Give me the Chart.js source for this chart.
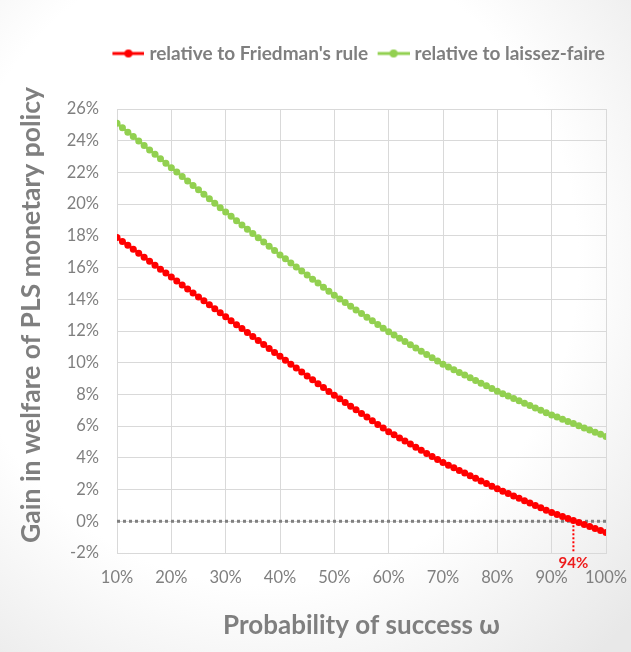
<!DOCTYPE html>
<html>
<head>
<meta charset="utf-8">
<script src="https://cdn.jsdelivr.net/npm/chart.js@4.4.0/dist/chart.umd.min.js"></script>
<style>
  html, body { margin: 0; padding: 0; }
  body {
    width: 631px; height: 652px; overflow: hidden;
    background: radial-gradient(ellipse 80% 80% at 42% 40%, #ffffff 62%, #e8e8e8 100%);
  }
  #wrap { position: relative; width: 631px; height: 652px; }
</style>
</head>
<body>
<div id="wrap"><canvas id="welfareChart"></canvas></div>
<script>
// probability of success (in %)
const omega = [
  10, 11, 12, 13, 14, 15, 16, 17, 18, 19,
  20, 21, 22, 23, 24, 25, 26, 27, 28, 29,
  30, 31, 32, 33, 34, 35, 36, 37, 38, 39,
  40, 41, 42, 43, 44, 45, 46, 47, 48, 49,
  50, 51, 52, 53, 54, 55, 56, 57, 58, 59,
  60, 61, 62, 63, 64, 65, 66, 67, 68, 69,
  70, 71, 72, 73, 74, 75, 76, 77, 78, 79,
  80, 81, 82, 83, 84, 85, 86, 87, 88, 89,
  90, 91, 92, 93, 94, 95, 96, 97, 98, 99,
  100
];

// gain in welfare, relative to Friedman's rule (%)
const friedmanGain = [
  17.90, 17.65, 17.40, 17.15, 16.90, 16.65, 16.40, 16.15, 15.90, 15.65,
  15.40, 15.15, 14.90, 14.65, 14.40, 14.15, 13.90, 13.65, 13.40, 13.15,
  12.90, 12.65, 12.40, 12.15, 11.90, 11.65, 11.40, 11.15, 10.90, 10.65,
  10.40, 10.15, 9.91, 9.66, 9.42, 9.17, 8.93, 8.68, 8.44, 8.19,
  7.95, 7.72, 7.49, 7.26, 7.03, 6.80, 6.57, 6.34, 6.11, 5.88,
  5.65, 5.45, 5.26, 5.06, 4.87, 4.67, 4.48, 4.28, 4.09, 3.89,
  3.70, 3.53, 3.37, 3.20, 3.04, 2.87, 2.71, 2.54, 2.38, 2.21,
  2.05, 1.90, 1.75, 1.60, 1.45, 1.30, 1.15, 1.00, 0.85, 0.70,
  0.55, 0.43, 0.30, 0.18, 0.05, -0.08, -0.20, -0.33, -0.45, -0.58,
  -0.70
];

// gain in welfare, relative to laissez-faire (%)
const laissezGain = [
  25.10, 24.82, 24.54, 24.26, 23.98, 23.70, 23.42, 23.14, 22.86, 22.58,
  22.30, 22.02, 21.74, 21.46, 21.18, 20.90, 20.62, 20.34, 20.06, 19.78,
  19.50, 19.23, 18.96, 18.69, 18.42, 18.15, 17.88, 17.61, 17.34, 17.07,
  16.80, 16.55, 16.29, 16.04, 15.78, 15.53, 15.27, 15.02, 14.76, 14.51,
  14.25, 14.02, 13.79, 13.56, 13.33, 13.10, 12.87, 12.64, 12.41, 12.18,
  11.95, 11.75, 11.54, 11.34, 11.13, 10.93, 10.72, 10.52, 10.31, 10.11,
  9.90, 9.73, 9.56, 9.39, 9.22, 9.05, 8.88, 8.71, 8.54, 8.37,
  8.20, 8.05, 7.90, 7.75, 7.60, 7.45, 7.30, 7.15, 7.00, 6.85,
  6.70, 6.57, 6.43, 6.30, 6.16, 6.03, 5.89, 5.76, 5.62, 5.49,
  5.35
];

const seriesNames = ["relative to Friedman's rule", 'relative to laissez-faire'];
const xRange = [10, 100];
const yRange = [-2, 26];
const crossAt = 94;          // where the Friedman curve crosses zero
const crossLabel = '94%';

const RED = '#ff0000';
const GREEN = '#92d050';
const GREY_TEXT = '#7f7f7f';
const GRID = '#d9d9d9';
const FONT = 'Lato, "Open Sans", sans-serif';

// little "line with a dot" legend markers (drawn in the right part of the image
// so the gap to the label text stays small)
function legendMarker(color) {
  const c = document.createElement('canvas');
  c.width = 33; c.height = 10;
  const g = c.getContext('2d');
  g.strokeStyle = color; g.lineWidth = 3;
  g.beginPath(); g.moveTo(1, 5); g.lineTo(33, 5); g.stroke();
  g.fillStyle = color;
  g.beginPath(); g.arc(17, 5, 4, 0, Math.PI * 2); g.fill();
  return c;
}
const markers = [legendMarker(RED), legendMarker(GREEN)];

// push the plot down below the legend and nudge the legend right
const legendSpacer = {
  id: 'legendSpacer',
  beforeInit(chart) {
    const fit = chart.legend.fit;
    chart.legend.fit = function () {
      fit.bind(chart.legend)();
      this.height += 36;
    };
  },
  afterLayout(chart) {
    chart.legend.left += 12;
    chart.legend.right += 12;
  }
};

// red dotted drop line + "94%" label
const crossingMarker = {
  id: 'crossingMarker',
  afterDatasetsDraw(chart) {
    const { ctx, scales: { x, y } } = chart;
    const px = x.getPixelForValue(crossAt);
    const top = y.getPixelForValue(0);
    const bottom = y.getPixelForValue(yRange[0]);
    ctx.save();
    ctx.strokeStyle = RED;
    ctx.lineWidth = 2;
    ctx.setLineDash([2, 2]);
    ctx.beginPath(); ctx.moveTo(px, top); ctx.lineTo(px, bottom); ctx.stroke();
    ctx.setLineDash([]);
    ctx.fillStyle = '#ee1c1c';
    ctx.font = 'bold 15px ' + FONT;
    ctx.textAlign = 'center';
    ctx.textBaseline = 'middle';
    ctx.fillText(crossLabel, px, bottom + 10);
    ctx.restore();
  }
};

const toPoints = vals => omega.map((w, i) => ({ x: w, y: vals[i] }));

new Chart(document.getElementById('welfareChart'), {
  type: 'line',
  data: {
    datasets: [
      {
        label: seriesNames[0],
        data: toPoints(friedmanGain),
        borderColor: RED,
        backgroundColor: RED,
        borderWidth: 2.5,
        pointRadius: 3.5,
        pointBorderWidth: 0,
        pointBackgroundColor: RED,
        order: 1
      },
      {
        label: seriesNames[1],
        data: toPoints(laissezGain),
        borderColor: GREEN,
        backgroundColor: GREEN,
        borderWidth: 2.5,
        pointRadius: 3.5,
        pointBorderWidth: 0,
        pointBackgroundColor: GREEN,
        order: 1
      },
      {
        label: 'zero',
        data: [{ x: xRange[0], y: 0 }, { x: xRange[1], y: 0 }],
        borderColor: '#808080',
        borderWidth: 3,
        borderDash: [3, 3],
        pointRadius: 0,
        order: 3
      }
    ]
  },
  options: {
    responsive: true,
    maintainAspectRatio: false,
    animation: false,
    layout: { padding: { left: 12, right: 25, top: 31, bottom: 7 } },
    plugins: {
      tooltip: { enabled: false },
      legend: {
        position: 'top',
        align: 'end',
        labels: {
          usePointStyle: true,
          pointStyleWidth: 24,
          padding: 13,
          color: GREY_TEXT,
          font: { family: FONT, size: 19, weight: 'bold' },
          generateLabels(chart) {
            return Chart.defaults.plugins.legend.labels.generateLabels(chart)
              .filter(l => l.datasetIndex < 2)
              .map(l => ({ ...l, pointStyle: markers[l.datasetIndex] }));
          }
        }
      }
    },
    scales: {
      x: {
        type: 'linear',
        min: xRange[0],
        max: xRange[1],
        afterFit(scale) {
          scale.height = 92;
          scale.paddingLeft = 0;
          scale.paddingRight = 25;
        },
        grid: { color: GRID, lineWidth: 1, drawTicks: false },
        border: { color: GRID },
        ticks: {
          stepSize: 10,
          padding: 15,
          color: GREY_TEXT,
          font: { family: FONT, size: 16.5 },
          callback: v => v + '%'
        },
        title: {
          display: true,
          text: 'Probability of success ω',
          color: GREY_TEXT,
          font: { family: FONT, size: 26, weight: 'bold' },
          padding: { top: 4, bottom: 4 }
        }
      },
      y: {
        min: yRange[0],
        max: yRange[1],
        afterFit(scale) { scale.width = 105; },
        grid: { color: GRID, lineWidth: 1, drawTicks: false },
        border: { color: GRID },
        ticks: {
          stepSize: 2,
          padding: 18,
          color: GREY_TEXT,
          font: { family: FONT, size: 16.5 },
          callback: v => v + '%'
        },
        title: {
          display: true,
          // leading spaces lift the title a little above the plot's centre
          text: '     Gain in welfare of PLS monetary policy',
          color: GREY_TEXT,
          font: { family: FONT, size: 26.5, weight: 'bold' },
          padding: { top: 4, bottom: 4 }
        }
      }
    }
  },
  plugins: [legendSpacer, crossingMarker]
});
</script>
</body>
</html>
